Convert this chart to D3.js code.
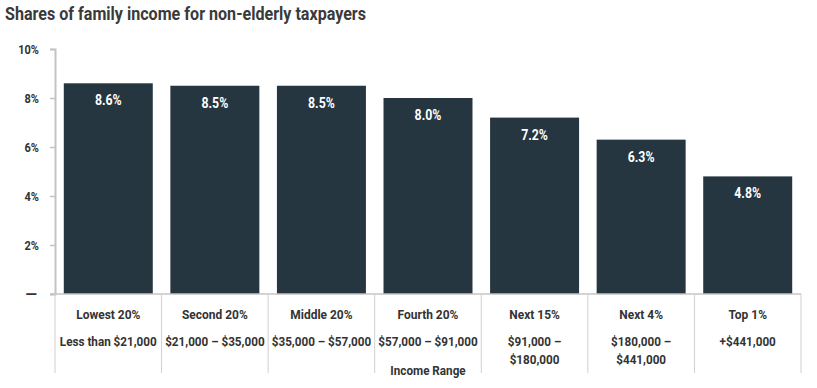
<!DOCTYPE html>
<html>
<head>
<meta charset="utf-8">
<script src="https://cdn.jsdelivr.net/npm/d3@7"></script>
<style>
  body { margin: 0; background: #fff; }
  svg { font-family: Roboto, "Open Sans", sans-serif; font-weight: bold; }
</style>
</head>
<body>
<svg id="chart" width="817" height="388"></svg>
<script>
const groups = ["Lowest 20%", "Second 20%", "Middle 20%", "Fourth 20%", "Next 15%", "Next 4%", "Top 1%"];
const ranges = [
  ["Less than $21,000"],
  ["$21,000 – $35,000"],
  ["$35,000 – $57,000"],
  ["$57,000 – $91,000"],
  ["$91,000 –", "$180,000"],
  ["$180,000 –", "$441,000"],
  ["+$441,000"]
];
const shares = [8.6, 8.5, 8.5, 8.0, 7.2, 6.3, 4.8];
const yTicks = [0, 2, 4, 6, 8, 10];

const svg = d3.select("#chart");
const plotTop = 49, plotBottom = 294, plotLeft = 55, plotRight = 801;
const ink = "#333";

// narrow text: the original uses a condensed face, so squeeze Roboto horizontally
function label(parent, x, y, txt, size, anchor, fill, squeeze) {
  return parent.append("text")
    .attr("transform", `translate(${x},${y}) scale(${squeeze},1)`)
    .attr("text-anchor", anchor)
    .attr("font-size", size)
    .attr("fill", fill)
    .text(txt);
}

const x = d3.scaleBand()
  .domain(groups)
  .range([plotLeft, plotRight])
  .paddingInner(0.165)
  .paddingOuter(0.0825);

const y = d3.scaleLinear()
  .domain([0, 10])
  .range([plotBottom, plotTop]);

// title
label(svg, 5, 20, "Shares of family income for non-elderly taxpayers", 18.5, "start", "#3a3a3a", 0.87);

// y axis
const yAxis = svg.append("g")
  .attr("transform", `translate(${plotLeft},0)`)
  .call(d3.axisLeft(y).tickValues(yTicks).tickSize(5).tickFormat(""));
yAxis.select(".domain").attr("stroke", "#c4c4c4").attr("stroke-width", 2);
yAxis.selectAll(".tick line").attr("stroke", "#c4c4c4").attr("stroke-width", 1.5);

yTicks.forEach(t => {
  if (t === 0) label(svg, 37, y(t) + 4.5, "—", 15, "end", ink, 1);
  else label(svg, 39, y(t) + 4.5, t + "%", 12.5, "end", ink, 0.88);
});

// bars
svg.selectAll("rect.bar")
  .data(shares)
  .join("rect")
  .attr("class", "bar")
  .attr("x", (d, i) => x(groups[i]))
  .attr("y", d => y(d))
  .attr("width", x.bandwidth())
  .attr("height", d => y(0) - y(d))
  .attr("fill", "#253640");

shares.forEach((d, i) => {
  label(svg, x(groups[i]) + x.bandwidth() / 2, y(d) + 22, d.toFixed(1) + "%", 14, "middle", "#fff", 0.88);
});

// baseline
svg.append("line")
  .attr("x1", plotLeft - 5).attr("x2", plotRight)
  .attr("y1", plotBottom).attr("y2", plotBottom)
  .attr("stroke", "#c4c4c4").attr("stroke-width", 1.5);

// category separators
const seps = groups.map(g => x(g) - x.step() * x.paddingInner() / 2).concat([plotRight]);
svg.selectAll("line.sep")
  .data(seps)
  .join("line")
  .attr("class", "sep")
  .attr("x1", d => d).attr("x2", d => d)
  .attr("y1", plotBottom).attr("y2", 373)
  .attr("stroke", "#d0d0d0").attr("stroke-width", 1);

// category labels
groups.forEach((g, i) => {
  const cx = x(g) + x.bandwidth() / 2;
  label(svg, cx, 319, g, 13, "middle", ink, 0.92);
  ranges[i].forEach((line, j) => {
    label(svg, cx, 346 + j * 18, line, 13, "middle", ink, 0.9);
  });
});

label(svg, x("Fourth 20%") + x.bandwidth() / 2, 375, "Income Range", 13, "middle", ink, 0.9);
</script>
</body>
</html>
